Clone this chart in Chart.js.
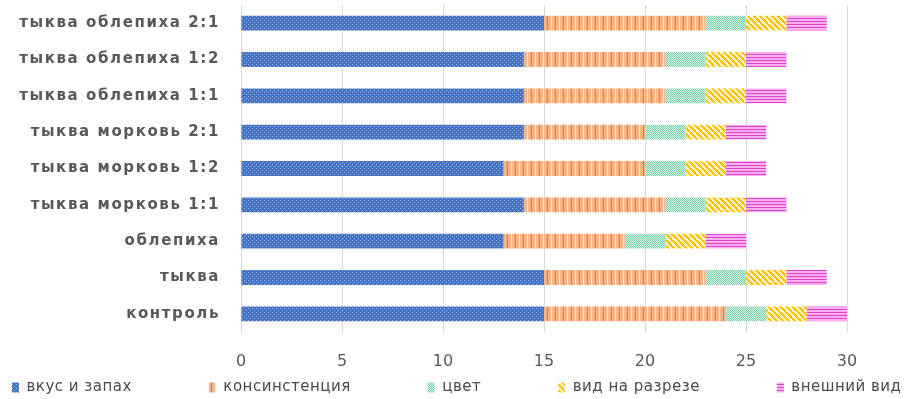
<!DOCTYPE html>
<html>
<head>
<meta charset="utf-8">
<script src="https://cdn.jsdelivr.net/npm/chart.js@4.4.1/dist/chart.umd.min.js"></script>
<style>
  html, body { margin: 0; padding: 0; background: #fff; }
  #wrap { width: 912px; height: 399px; }
</style>
</head>
<body>
<div id="wrap"><canvas id="chart"></canvas></div>
<script>
const categories = [
    "тыква облепиха 2:1",
    "тыква облепиха 1:2",
    "тыква облепиха 1:1",
    "тыква морковь 2:1",
    "тыква морковь 1:2",
    "тыква морковь 1:1",
    "облепиха",
    "тыква",
    "контроль"
];
const tasteSmell = [15, 14, 14, 14, 13, 14, 13, 15, 15];
const consistency = [8, 7, 7, 6, 7, 7, 6, 8, 9];
const colour = [2, 2, 2, 2, 2, 2, 2, 2, 2];
const crossSection = [2, 2, 2, 2, 2, 2, 2, 2, 2];
const appearance = [2, 2, 2, 2, 2, 2, 2, 2, 2];
const seriesNames = ["вкус и запах", "консинстенция", "цвет", "вид на разрезе", "внешний вид"];

const FONT = "'DejaVu Sans', 'Liberation Sans', sans-serif";
const TEXT_COLOR = "#595959";

// small canvas tiles used as fill patterns
function makePattern(w, h, draw) {
    const c = document.createElement("canvas");
    c.width = w; c.height = h;
    const g = c.getContext("2d");
    draw(g);
    return g.createPattern(c, "repeat");
}

const bluePattern = makePattern(4, 4, g => {
    g.fillStyle = "#4472C4"; g.fillRect(0, 0, 4, 4);
    g.fillStyle = "#A9BFE8";
    g.fillRect(0, 0, 1, 1); g.fillRect(2, 2, 1, 1);
});
const orangePattern = makePattern(8, 4, g => {
    g.fillStyle = "#F7B68A"; g.fillRect(0, 0, 8, 4);
    g.fillStyle = "#E9782F"; g.fillRect(3, 0, 1, 4);
    g.fillStyle = "#FCE3D2"; g.fillRect(7, 0, 1, 4);
});
const greenPattern = makePattern(2, 2, g => {
    g.fillStyle = "#DDF5EA"; g.fillRect(0, 0, 2, 2);
    g.fillStyle = "#72D0A6";
    g.fillRect(0, 0, 1, 1); g.fillRect(1, 1, 1, 1);
});
const yellowPattern = makePattern(6, 6, g => {
    g.fillStyle = "#FFF3CC"; g.fillRect(0, 0, 6, 6);
    g.fillStyle = "#FFC000";
    for (let i = 0; i < 6; i++) {
        g.fillRect(i, i, 2, 1);
        g.fillRect((i + 5) % 6, i, 1, 1);
    }
});
const pinkPattern = makePattern(4, 3, g => {
    g.fillStyle = "#F8B0F0"; g.fillRect(0, 0, 4, 3);
    g.fillStyle = "#DD44CF"; g.fillRect(0, 0, 4, 1);
});

const fills = [bluePattern, orangePattern, greenPattern, yellowPattern, pinkPattern];
const values = [tasteSmell, consistency, colour, crossSection, appearance];

// run a method with a given canvas letter spacing
function spaced(obj, method, spacing, before, after) {
    const orig = obj[method];
    obj[method] = function (...args) {
        const c = this.ctx;
        const prev = c.letterSpacing;
        c.letterSpacing = spacing;
        if (before) before.call(this);
        const r = orig.apply(this, args);
        if (after) after.call(this);
        c.letterSpacing = prev;
        return r;
    };
}

// legend: wide gaps like the original, kept in one row and tucked under the axis
const LEGEND_GAP = 77;
const LEGEND_SPACING = "0.5px";
const legendTweaks = {
    id: "legendTweaks",
    beforeLayout(chart) {
        const lg = chart.legend;
        if (!lg || lg._tweaked) return;
        lg._tweaked = true;
        const origFit = lg.fit;
        lg.fit = function () {
            const c = this.ctx;
            const prev = c.letterSpacing;
            c.letterSpacing = LEGEND_SPACING;
            const mw = this.maxWidth;
            this.maxWidth = 5000;
            origFit.call(this);
            this.maxWidth = mw;
            this.width = mw;
            this.height = 27;
            c.letterSpacing = prev;
        };
        spaced(lg, "draw", LEGEND_SPACING,
            function () { this.top -= 69; this.left -= 65; this.right += 500; },
            function () { this.top += 69; this.left += 65; this.right -= 500; });
    },
    beforeDraw(chart) {
        const y = chart.scales.y;
        if (y && !y._tweaked) {
            y._tweaked = true;
            spaced(y, "drawLabels", "1.6px");
        }
    }
};

const ctx = document.getElementById("chart").getContext("2d");
new Chart(ctx, {
    type: "bar",
    data: {
        labels: categories,
        datasets: seriesNames.map((name, i) => ({
            label: name,
            data: values[i],
            backgroundColor: fills[i],
            borderWidth: 0,
            barPercentage: 0.82,
            categoryPercentage: 0.5
        }))
    },
    options: {
        indexAxis: "y",
        responsive: true,
        maintainAspectRatio: false,
        animation: false,
        layout: { padding: { left: 0, right: 0, top: 5, bottom: 0 } },
        plugins: {
            tooltip: { enabled: false },
            legend: {
                position: "bottom",
                align: "start",
                labels: {
                    color: "#4A4A4A",
                    font: { family: FONT, size: 15 },
                    boxWidth: 7,
                    boxHeight: 10,
                    padding: LEGEND_GAP
                }
            }
        },
        scales: {
            x: {
                stacked: true,
                min: 0,
                max: 30,
                ticks: {
                    stepSize: 5,
                    color: TEXT_COLOR,
                    padding: 20,
                    font: { family: FONT, size: 16 }
                },
                grid: { color: "#D9D9D9", drawTicks: false },
                border: { display: false },
                afterFit(axis) {
                    axis.height = 40;
                    axis.paddingRight = 65;
                }
            },
            y: {
                stacked: true,
                ticks: {
                    autoSkip: false,
                    color: TEXT_COLOR,
                    padding: 13,
                    font: { family: FONT, size: 15, weight: "bold" }
                },
                grid: { display: false },
                border: { display: true, color: "#D9D9D9" },
                afterFit(axis) {
                    axis.width = 241;
                    axis.paddingTop = 0;
                    axis.paddingBottom = 0;
                }
            }
        }
    },
    plugins: [legendTweaks]
});
</script>
</body>
</html>
